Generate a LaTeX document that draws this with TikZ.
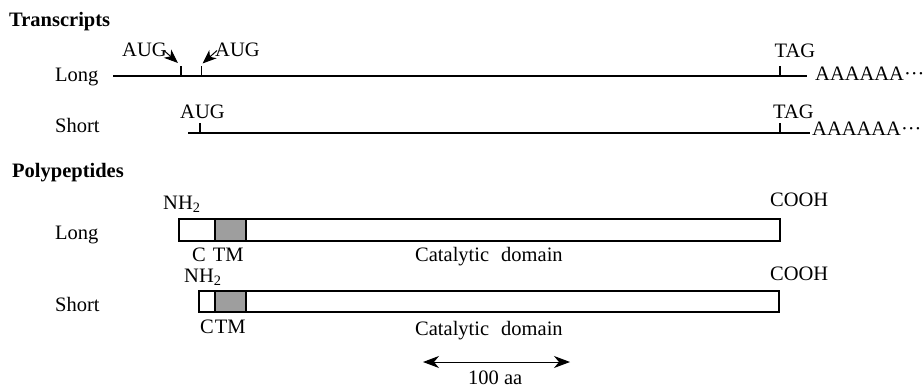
\documentclass[tikz,border=0pt]{standalone}
\usepackage{fontspec}
\setmainfont{Liberation Serif}
\usetikzlibrary{arrows.meta}
\definecolor{tmgray}{RGB}{158,158,158}
\begin{document}
\begin{tikzpicture}[x=1pt,y=-1pt,
  lbl/.style={font=\fontsize{20.5}{24}\selectfont, inner sep=0pt, anchor=base west},
  hdr/.style={font=\fontsize{20.5}{24}\selectfont\bfseries, inner sep=0pt, anchor=base west},
  rna/.style={line width=2.2pt},
  tickline/.style={line width=1.6pt},
  pbox/.style={draw, line width=2pt, fill=white},
  tmbox/.style={draw, line width=2pt, fill=tmgray},
  augarrow/.style={line width=1pt, -{Stealth[length=14pt,width=11pt,inset=4pt]}},
  scalearrow/.style={line width=1pt, {Stealth[length=16pt,width=12pt,inset=5pt]}-{Stealth[length=16pt,width=12pt,inset=5pt]}}
]
\useasboundingbox (0,0) rectangle (924,388);

% ---------- Transcripts ----------
\node[hdr] (hTr) at (9,26) {Transcripts};

% Long transcript
\node[lbl] (trLong) at (55,81) {Long};
\coordinate (L0) at (113,76);
\coordinate (L1) at (807,76);
\draw[rna] (L0) -- (L1);
\coordinate (LA1b) at (181,76);   \coordinate (LA1t) at (181,65.5);
\coordinate (LA2b) at (201.5,76); \coordinate (LA2t) at (201.5,65.5);
\coordinate (LTb) at (780,76);    \coordinate (LTt) at (780,66);
\draw[tickline] (LA1b) -- (LA1t);
\draw[tickline] (LA2b) -- (LA2t);
\draw[tickline] (LTb) -- (LTt);
\node[lbl] (augA) at (122,56.5) {AUG};
\node[lbl] (augB) at (215,56.5) {AUG};
\coordinate (augAtail) at (164,50.5);
\coordinate (augAtip) at (178,63);
\coordinate (augBtail) at (217,50.5);
\coordinate (augBtip) at (202.5,63.5);
\draw[augarrow] (augAtail) -- (augAtip);
\draw[augarrow] (augBtail) -- (augBtip);
\node[lbl] (tagL) at (774.5,57) {TAG};
\node[lbl] (polyAL) at (815,80.7) {AAAAAA···};

% Short transcript
\node[lbl] (trShort) at (55,132.3) {Short};
\coordinate (S0) at (188,133);
\coordinate (S1) at (810,133);
\draw[rna] (S0) -- (S1);
\coordinate (SAb) at (200,133); \coordinate (SAt) at (200,123);
\coordinate (STb) at (780,133); \coordinate (STt) at (780,123);
\draw[tickline] (SAb) -- (SAt);
\draw[tickline] (STb) -- (STt);
\node[lbl] (augS) at (180,118.3) {AUG};
\node[lbl] (tagS) at (773,118.3) {TAG};
\node[lbl] (polyAS) at (812,135) {AAAAAA···};

% ---------- Polypeptides ----------
\node[hdr] (hPp) at (12,177) {Polypeptides};

% Long polypeptide
\node[lbl] (ppLong) at (55,239.3) {Long};
\node[lbl] (nhL) at (163,209) {NH\textsubscript{2}};
\node[lbl] (coL) at (770,206.5) {COOH};
\coordinate (PL0) at (179,219); \coordinate (PL1) at (780,241);
\draw[pbox] (PL0) rectangle (PL1);
\coordinate (TL0) at (215,219); \coordinate (TL1) at (246,241);
\draw[tmbox] (TL0) rectangle (TL1);
\node[lbl] (ctmL) at (192,261) {C\hspace{7pt}TM};
\node[lbl] (catL) at (415,261.7) {Catalytic\hspace{12pt}domain};

% Short polypeptide
\node[lbl] (ppShort) at (55,311) {Short};
\node[lbl] (nhS) at (184,282.7) {NH\textsubscript{2}};
\node[lbl] (coS) at (770,280) {COOH};
\coordinate (PS0) at (199,291); \coordinate (PS1) at (779,312);
\draw[pbox] (PS0) rectangle (PS1);
\coordinate (TS0) at (215,291); \coordinate (TS1) at (246,312);
\draw[tmbox] (TS0) rectangle (TS1);
\node[lbl] (ctmS) at (200,333) {C\hspace{1pt}TM};
\node[lbl] (catS) at (415,335) {Catalytic\hspace{12pt}domain};

% Scale bar
\coordinate (sb0) at (423,362);
\coordinate (sb1) at (570,362);
\draw[scalearrow] (sb0) -- (sb1);
\node[lbl] (sbl) at (468,384) {100 aa};
\end{tikzpicture}
\end{document}
